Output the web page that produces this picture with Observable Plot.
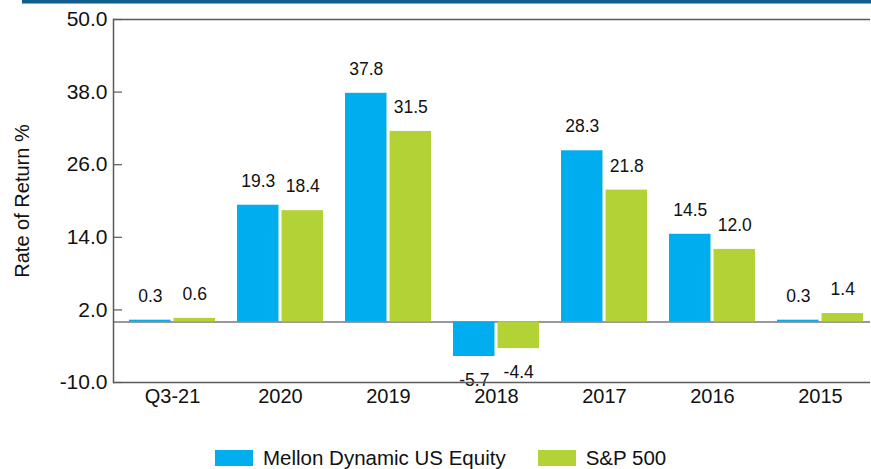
<!DOCTYPE html>
<html><head><meta charset="utf-8">
<script src="https://cdn.jsdelivr.net/npm/d3@7"></script>
<script src="https://cdn.jsdelivr.net/npm/@observablehq/plot@0.6"></script>
<style>
body{margin:0;background:#fff;}
#wrap{position:relative;width:871px;height:469px;overflow:hidden;font-family:"Liberation Sans",Arial,sans-serif;color:#111;}
#topline{position:absolute;left:22px;top:0;width:849px;height:3px;background:#105e90;border-bottom:1px solid #7ea9c7;}
#legend{position:absolute;top:447px;left:215px;display:flex;align-items:center;font-size:20.5px;line-height:22px;}
.item{display:flex;align-items:center;margin-right:32px;}
.sw{width:38px;height:16px;margin-right:10px;}
</style></head><body><div id="wrap"></div>
<script>
const categories = ["Q3-21","2020","2019","2018","2017","2016","2015"];
const seriesNames = ["Mellon Dynamic US Equity","S&P 500"];
const mellon = [0.3,19.3,37.8,-5.7,28.3,14.5,0.3];
const sp500 = [0.6,18.4,31.5,-4.4,21.8,12.0,1.4];
const yTicks = [-10,2,14,26,38,50];
const yLabel = "Rate of Return %";
const colors = ["#00AEEF","#B3D235"];

const rowsM = categories.map((c,i)=>({cat:c, series:seriesNames[0], value:mellon[i]}));
const rowsS = categories.map((c,i)=>({cat:c, series:seriesNames[1], value:sp500[i]}));
const fmt = v => v.toFixed(1);
const axisColor = "#5a5a5a";

const labelMarks = [];
[[rowsM,-22.2],[rowsS,22.2]].forEach(([rows,dx])=>{
  labelMarks.push(Plot.text(rows.filter(d=>d.value>=0),{x:"cat",y:"value",text:d=>fmt(d.value),dx,dy:-24,fontSize:17.5,fill:"#111"}));
  labelMarks.push(Plot.text(rows.filter(d=>d.value<0),{x:"cat",y:"value",text:d=>fmt(d.value),dx,dy:24,fontSize:17.5,fill:"#111"}));
});

const chart = Plot.plot({
  width:871, height:430,
  marginLeft:113, marginRight:1, marginTop:19, marginBottom:48,
  style: 'font-family:"Liberation Sans",Arial,sans-serif;background:transparent;color:#111;',
  x:{domain:categories, paddingInner:0.2, paddingOuter:0.073, align:0.69},
  y:{domain:[-10,50]},
  marks:[
    Plot.ruleY([0],{stroke:"#777",strokeWidth:1.5}),
    Plot.ruleY(yTicks,{stroke:axisColor,strokeWidth:1.2,insetRight:748}),
    Plot.barY(rowsM,{x:"cat",y:"value",fill:colors[0],insetRight:44.5}),
    Plot.barY(rowsS,{x:"cat",y:"value",fill:colors[1],insetLeft:44.5}),
    ...labelMarks,
    Plot.ruleY([50],{stroke:axisColor,strokeWidth:1.5}),
    Plot.ruleY([-10],{stroke:axisColor,strokeWidth:1.5}),
    Plot.frame({anchor:"left",stroke:axisColor,strokeWidth:1.5}),
    Plot.axisY(yTicks,{tickSize:0,tickPadding:6,tickFormat:fmt,fontSize:21,fill:"#111",label:null}),
    Plot.text([yLabel],{frameAnchor:"left",text:d=>d,rotate:-90,dx:-91,textAnchor:"middle",lineAnchor:"middle",fontSize:20,fill:"#111"}),
    Plot.axisX({tickSize:0,tickPadding:6,fontSize:20,fill:"#111",label:null})
  ]
});
const wrap = document.getElementById("wrap");
wrap.appendChild(chart);
const tl = document.createElement("div"); tl.id="topline"; wrap.appendChild(tl);

const leg = document.createElement("div"); leg.id="legend";
seriesNames.forEach((n,i)=>{
  const it=document.createElement("div"); it.className="item";
  const sw=document.createElement("div"); sw.className="sw"; sw.style.background=colors[i];
  const tx=document.createElement("span"); tx.textContent=n;
  it.appendChild(sw); it.appendChild(tx); leg.appendChild(it);
});
wrap.appendChild(leg);
</script></body></html>
